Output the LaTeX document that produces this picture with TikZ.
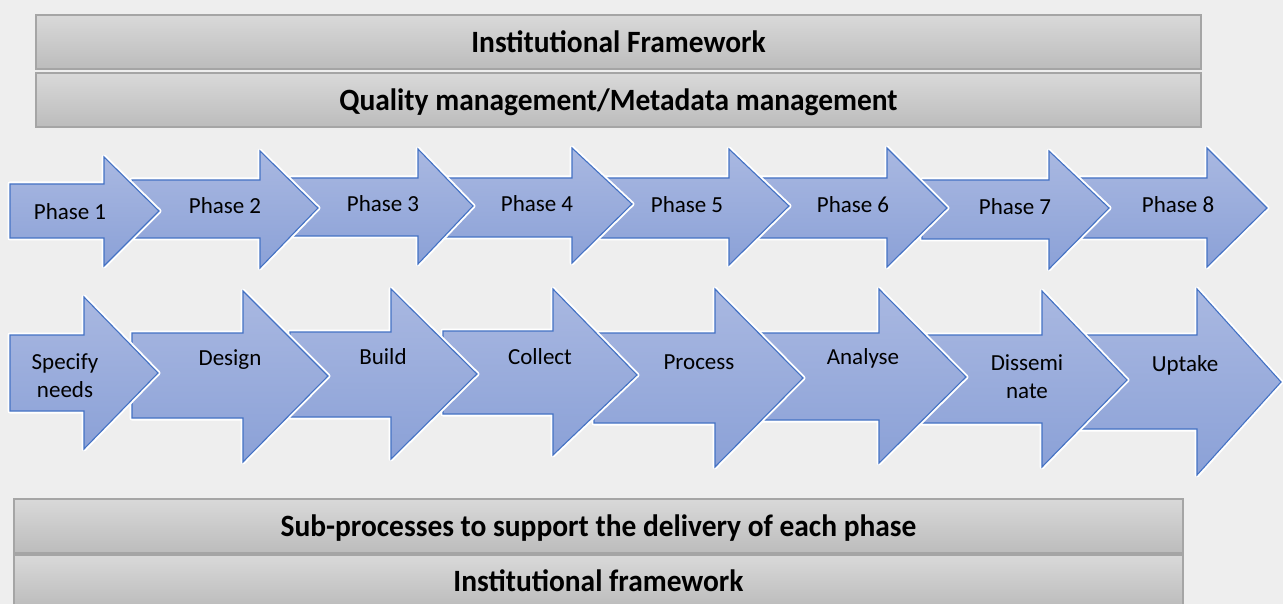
\documentclass[tikz,border=0pt]{standalone}
\usepackage{fontspec}
\setmainfont{Carlito}
\newfontfamily\barfont[FakeStretch=0.95]{Carlito}
\definecolor{bgcol}{HTML}{EEEEEE}
\definecolor{barline}{HTML}{A5A5A5}
\definecolor{bartop}{HTML}{D9D9D9}
\definecolor{barbot}{HTML}{BCBCBC}
\definecolor{arrline}{HTML}{4472C4}
\definecolor{arrtop}{HTML}{A9B8E1}
\definecolor{arrbot}{HTML}{8BA1D7}
\tikzset{
  bandbox/.style={draw=barline, line width=1.2pt, top color=bartop, bottom color=barbot,
    inner sep=0pt, text height=28pt, text depth=7pt,
    font=\barfont\bfseries\fontsize{31}{34}\selectfont},
  halo/.style={draw=white, line width=5pt, line join=round},
  arrowbody/.style={draw=arrline, line width=1.1pt, top color=arrtop, bottom color=arrbot, line join=miter},
  arrowlabel/.style={font=\fontsize{23}{28}\selectfont, align=center, inner sep=0pt}
}
% block arrow: left, body top, body bottom, head base, head top, head bottom, tip x, tip y
\newcommand{\blockarrow}[8]{%
  \path[halo] (#1,#2) -- (#4,#2) -- (#4,#5) -- (#7,#8) -- (#4,#6) -- (#4,#3) -- (#1,#3) -- cycle;
  \path[arrowbody] (#1,#2) -- (#4,#2) -- (#4,#5) -- (#7,#8) -- (#4,#6) -- (#4,#3) -- (#1,#3) -- cycle;
}
\begin{document}
\begin{tikzpicture}[x=1pt,y=-1pt]
\fill[bgcol] (0,0) rectangle (1283,604);
\useasboundingbox (0,0) rectangle (1283,604);

% framework bands above
\node[bandbox, minimum width=1165pt, minimum height=54pt] (instTop) at (618.5,42) {Institutional Framework};
\node[bandbox, minimum width=1165pt, minimum height=54pt] (quality) at (618.5,100) {Quality management/Metadata management};

% phase arrows (later ones first so earlier ones sit on top)
\blockarrow{1080}{178}{238}{1207}{148}{267}{1267}{208}
\blockarrow{922}{180}{239}{1049}{151}{269}{1109}{208}
\blockarrow{759}{178}{238}{887}{148}{267}{947}{208}
\blockarrow{601}{178}{238}{729}{149}{265}{789}{206}
\blockarrow{444}{178}{237}{572}{148}{263}{632}{204}
\blockarrow{291}{178}{236}{418}{149}{264}{473}{206}
\blockarrow{132}{180}{238}{260}{151}{268}{318}{208}
\blockarrow{10}{184}{238}{104}{157}{266}{159}{211}

% process arrows
\blockarrow{1080}{335}{429}{1197}{289}{475}{1281}{382}
\blockarrow{922}{335}{423}{1042}{291}{467}{1127}{380}
\blockarrow{760}{333}{420}{879}{289}{463}{966}{377}
\blockarrow{594}{333}{423}{715}{289}{467}{803}{378}
\blockarrow{443}{331}{414}{553}{289}{455}{637}{375}
\blockarrow{290}{332}{417}{391}{289}{459}{477}{374}
\blockarrow{132}{333}{418}{243}{291}{462}{328}{376}
\blockarrow{10}{335}{411}{84}{297}{449}{158}{373}

% phase labels
\node[arrowlabel] (ph1) at (70,212) {Phase 1};
\node[arrowlabel] (ph2) at (225,206) {Phase 2};
\node[arrowlabel] (ph3) at (383,204) {Phase 3};
\node[arrowlabel] (ph4) at (537,204) {Phase 4};
\node[arrowlabel] (ph5) at (687,205) {Phase 5};
\node[arrowlabel] (ph6) at (853,205) {Phase 6};
\node[arrowlabel] (ph7) at (1015,207) {Phase 7};
\node[arrowlabel] (ph8) at (1178,205) {Phase 8};

% process labels
\node[arrowlabel] (specify) at (65,376) {Specify\\needs};
\node[arrowlabel] (design) at (230,360) {Design};
\node[arrowlabel] (build) at (383,357) {Build};
\node[arrowlabel] (collect) at (540,357) {Collect};
\node[arrowlabel] (process) at (699,362) {Process};
\node[arrowlabel] (analyse) at (863,358) {Analyse};
\node[arrowlabel] (dissem) at (1027,377) {Dissemi\\nate};
\node[arrowlabel] (uptake) at (1185,365) {Uptake};

% support bands below
\node[bandbox, minimum width=1169pt, minimum height=54pt] (subproc) at (598.5,526) {Sub-processes to support the delivery of each phase};
\node[bandbox, minimum width=1169pt, minimum height=52pt] (instBot) at (598.5,581) {Institutional framework};
\end{tikzpicture}
\end{document}
